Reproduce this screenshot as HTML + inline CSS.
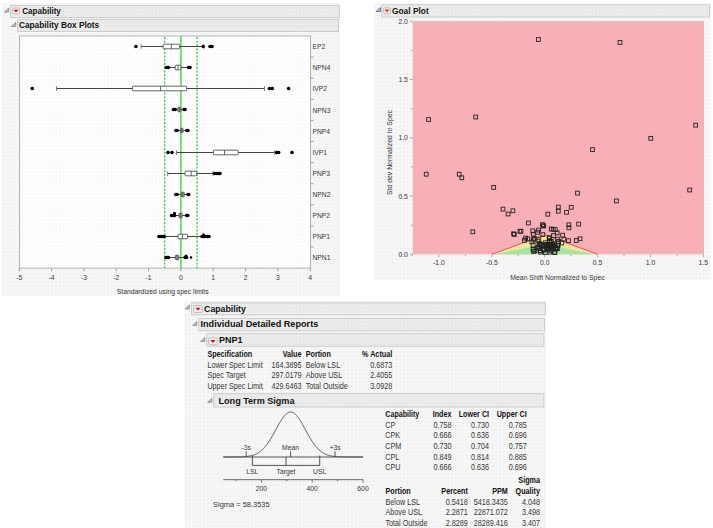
<!DOCTYPE html>
<html><head><meta charset="utf-8"><style>html,body{margin:0;padding:0;background:#fff;overflow:hidden}svg{display:block}text{font-family:"Liberation Sans",sans-serif}</style></head>
<body>
<svg width="713" height="528" viewBox="0 0 713 528" style="font-family: &quot;Liberation Sans&quot;, sans-serif;">
<rect width="713" height="528" fill="#ffffff"/>
<defs><pattern id="grid" patternUnits="userSpaceOnUse" width="3.7" height="3.7"><rect width="3.7" height="3.7" fill="#f8f8f8"/><rect x="0" y="0" width="3.7" height="0.7" fill="#f0f0f0"/><rect x="0" y="0" width="0.7" height="3.7" fill="#f0f0f0"/></pattern><pattern id="hgrid" patternUnits="userSpaceOnUse" width="3.7" height="3.7"><rect width="3.7" height="3.7" fill="#ededed"/><rect width="3.7" height="0.7" fill="#e5e5e5"/><rect width="0.7" height="3.7" fill="#e5e5e5"/></pattern><pattern id="pgrid" patternUnits="userSpaceOnUse" width="3.7" height="3.7"><rect width="3.7" height="3.7" fill="#f9b1b9"/><rect width="3.7" height="0.7" fill="#f5acb5"/><rect width="0.7" height="3.7" fill="#f5acb5"/></pattern><pattern id="dots" patternUnits="userSpaceOnUse" width="3.7" height="3.7"><rect width="3.7" height="3.7" fill="#fefefe"/><rect x="0" y="1.5" width="1.2" height="0.8" fill="#ebebeb"/></pattern></defs>
<rect x="2" y="3" width="338" height="293" fill="url(#grid)"/>
<rect x="10.5" y="5.5" width="329" height="12" fill="url(#hgrid)" stroke="#cdcdcd" stroke-width="1"/>
<path d="M4.5 12.0 L8.7 8.1 L8.7 12.0 Z" fill="#c8c8c8" stroke="#8a8a8a" stroke-width="0.9" stroke-linejoin="round"/>
<rect x="12.5" y="8" width="7" height="6" rx="1.2" fill="#f0f0f0" stroke="#b8b8b8" stroke-width="0.9"/>
<path d="M13.4 9.7 L18.6 9.7 L16.0 12.6 Z" fill="#e0000f"/>
<text x="22.2" y="13.9" font-size="8.7" text-anchor="start" font-weight="bold" fill="#111" textLength="38.7" lengthAdjust="spacingAndGlyphs" >Capability</text>
<rect x="17.5" y="19.5" width="321" height="12" fill="url(#hgrid)" stroke="#cdcdcd" stroke-width="1"/>
<path d="M11.5 26.4 L15.7 22.5 L15.7 26.4 Z" fill="#c8c8c8" stroke="#8a8a8a" stroke-width="0.9" stroke-linejoin="round"/>
<text x="18.9" y="28.4" font-size="8.7" text-anchor="start" font-weight="bold" fill="#111" textLength="80.3" lengthAdjust="spacingAndGlyphs" >Capability Box Plots</text>
<rect x="19.5" y="35.95" width="291.0" height="232.2" fill="url(#dots)" stroke="#b4b4b4" stroke-width="1"/>
<line x1="19.25000000000003" y1="268.15" x2="19.25000000000003" y2="271.15" stroke="#999" stroke-width="1"/>
<text x="0" y="0" transform="translate(19.25,279.50) scale(0.92,1)" font-size="7.4" text-anchor="middle" font-weight="normal" fill="#353535" >-5</text>
<line x1="51.58000000000001" y1="268.15" x2="51.58000000000001" y2="271.15" stroke="#999" stroke-width="1"/>
<text x="0" y="0" transform="translate(51.58,279.50) scale(0.92,1)" font-size="7.4" text-anchor="middle" font-weight="normal" fill="#353535" >-4</text>
<line x1="83.91000000000001" y1="268.15" x2="83.91000000000001" y2="271.15" stroke="#999" stroke-width="1"/>
<text x="0" y="0" transform="translate(83.91,279.50) scale(0.92,1)" font-size="7.4" text-anchor="middle" font-weight="normal" fill="#353535" >-3</text>
<line x1="116.24000000000001" y1="268.15" x2="116.24000000000001" y2="271.15" stroke="#999" stroke-width="1"/>
<text x="0" y="0" transform="translate(116.24,279.50) scale(0.92,1)" font-size="7.4" text-anchor="middle" font-weight="normal" fill="#353535" >-2</text>
<line x1="148.57" y1="268.15" x2="148.57" y2="271.15" stroke="#999" stroke-width="1"/>
<text x="0" y="0" transform="translate(148.57,279.50) scale(0.92,1)" font-size="7.4" text-anchor="middle" font-weight="normal" fill="#353535" >-1</text>
<line x1="180.9" y1="268.15" x2="180.9" y2="271.15" stroke="#999" stroke-width="1"/>
<text x="0" y="0" transform="translate(180.90,279.50) scale(0.92,1)" font-size="7.4" text-anchor="middle" font-weight="normal" fill="#353535" >0</text>
<line x1="213.23000000000002" y1="268.15" x2="213.23000000000002" y2="271.15" stroke="#999" stroke-width="1"/>
<text x="0" y="0" transform="translate(213.23,279.50) scale(0.92,1)" font-size="7.4" text-anchor="middle" font-weight="normal" fill="#353535" >1</text>
<line x1="245.56" y1="268.15" x2="245.56" y2="271.15" stroke="#999" stroke-width="1"/>
<text x="0" y="0" transform="translate(245.56,279.50) scale(0.92,1)" font-size="7.4" text-anchor="middle" font-weight="normal" fill="#353535" >2</text>
<line x1="277.89" y1="268.15" x2="277.89" y2="271.15" stroke="#999" stroke-width="1"/>
<text x="0" y="0" transform="translate(277.89,279.50) scale(0.92,1)" font-size="7.4" text-anchor="middle" font-weight="normal" fill="#353535" >3</text>
<line x1="310.22" y1="268.15" x2="310.22" y2="271.15" stroke="#999" stroke-width="1"/>
<text x="0" y="0" transform="translate(310.22,279.50) scale(0.92,1)" font-size="7.4" text-anchor="middle" font-weight="normal" fill="#353535" >4</text>
<text x="162.7" y="294.0" font-size="7.3" text-anchor="middle" font-weight="normal" fill="#353535" textLength="91.8" lengthAdjust="spacingAndGlyphs" >Standardized using spec limits</text>
<text x="0" y="0" transform="translate(312.50,49.20) scale(0.86,1)" font-size="7.8" text-anchor="start" font-weight="normal" fill="#353535" >EP2</text>
<text x="0" y="0" transform="translate(312.50,70.31) scale(0.86,1)" font-size="7.8" text-anchor="start" font-weight="normal" fill="#353535" >NPN4</text>
<line x1="310.5" y1="57.05909090909091" x2="313.5" y2="57.05909090909091" stroke="#999" stroke-width="1"/>
<text x="0" y="0" transform="translate(312.50,91.42) scale(0.86,1)" font-size="7.8" text-anchor="start" font-weight="normal" fill="#353535" >IVP2</text>
<line x1="310.5" y1="78.16818181818182" x2="313.5" y2="78.16818181818182" stroke="#999" stroke-width="1"/>
<text x="0" y="0" transform="translate(312.50,112.53) scale(0.86,1)" font-size="7.8" text-anchor="start" font-weight="normal" fill="#353535" >NPN3</text>
<line x1="310.5" y1="99.27727272727273" x2="313.5" y2="99.27727272727273" stroke="#999" stroke-width="1"/>
<text x="0" y="0" transform="translate(312.50,133.64) scale(0.86,1)" font-size="7.8" text-anchor="start" font-weight="normal" fill="#353535" >PNP4</text>
<line x1="310.5" y1="120.38636363636364" x2="313.5" y2="120.38636363636364" stroke="#999" stroke-width="1"/>
<text x="0" y="0" transform="translate(312.50,154.75) scale(0.86,1)" font-size="7.8" text-anchor="start" font-weight="normal" fill="#353535" >IVP1</text>
<line x1="310.5" y1="141.49545454545455" x2="313.5" y2="141.49545454545455" stroke="#999" stroke-width="1"/>
<text x="0" y="0" transform="translate(312.50,175.86) scale(0.86,1)" font-size="7.8" text-anchor="start" font-weight="normal" fill="#353535" >PNP3</text>
<line x1="310.5" y1="162.60454545454547" x2="313.5" y2="162.60454545454547" stroke="#999" stroke-width="1"/>
<text x="0" y="0" transform="translate(312.50,196.97) scale(0.86,1)" font-size="7.8" text-anchor="start" font-weight="normal" fill="#353535" >NPN2</text>
<line x1="310.5" y1="183.71363636363634" x2="313.5" y2="183.71363636363634" stroke="#999" stroke-width="1"/>
<text x="0" y="0" transform="translate(312.50,218.08) scale(0.86,1)" font-size="7.8" text-anchor="start" font-weight="normal" fill="#353535" >PNP2</text>
<line x1="310.5" y1="204.82272727272726" x2="313.5" y2="204.82272727272726" stroke="#999" stroke-width="1"/>
<text x="0" y="0" transform="translate(312.50,239.19) scale(0.86,1)" font-size="7.8" text-anchor="start" font-weight="normal" fill="#353535" >PNP1</text>
<line x1="310.5" y1="225.9318181818182" x2="313.5" y2="225.9318181818182" stroke="#999" stroke-width="1"/>
<text x="0" y="0" transform="translate(312.50,260.30) scale(0.86,1)" font-size="7.8" text-anchor="start" font-weight="normal" fill="#353535" >NPN1</text>
<line x1="310.5" y1="247.0409090909091" x2="313.5" y2="247.0409090909091" stroke="#999" stroke-width="1"/>
<line x1="180.9" y1="35.95" x2="180.9" y2="268.15" stroke="#6fd46f" stroke-width="1.7"/>
<line x1="164.735" y1="36.95" x2="164.735" y2="268.15" stroke="#3cc846" stroke-width="1.3" stroke-dasharray="2.2,1.5"/>
<line x1="197.065" y1="36.95" x2="197.065" y2="268.15" stroke="#3cc846" stroke-width="1.3" stroke-dasharray="2.2,1.5"/>
<line x1="141.1" y1="46.5" x2="203.6" y2="46.5" stroke="#444" stroke-width="1"/>
<line x1="141.1" y1="44.2" x2="141.1" y2="48.8" stroke="#777" stroke-width="1"/>
<line x1="203.6" y1="44.2" x2="203.6" y2="48.8" stroke="#777" stroke-width="1"/>
<rect x="163.1" y="44.2" width="16.5" height="4.6" fill="#fff" stroke="#555" stroke-width="0.9" rx="0.8"/>
<line x1="171.4" y1="44.2" x2="171.4" y2="48.8" stroke="#555" stroke-width="0.9"/>
<circle cx="135.9" cy="46.5" r="1.8" fill="#000"/>
<circle cx="203.2" cy="46.5" r="1.8" fill="#000"/>
<circle cx="210" cy="46.5" r="1.8" fill="#000"/>
<circle cx="212" cy="46.5" r="1.8" fill="#000"/>
<line x1="169.8" y1="67.5" x2="186.8" y2="67.5" stroke="#444" stroke-width="1"/>
<rect x="175.2" y="65.2" width="5.700000000000017" height="4.6" fill="#fff" stroke="#555" stroke-width="0.9" rx="0.8"/>
<line x1="178.0" y1="65.2" x2="178.0" y2="69.8" stroke="#555" stroke-width="0.9"/>
<circle cx="166.3" cy="67.5" r="1.8" fill="#000"/>
<circle cx="168.3" cy="67.5" r="1.8" fill="#000"/>
<circle cx="188.5" cy="67.5" r="1.8" fill="#000"/>
<circle cx="190" cy="67.5" r="1.8" fill="#000"/>
<line x1="56.5" y1="88.5" x2="264.5" y2="88.5" stroke="#444" stroke-width="1"/>
<line x1="56.5" y1="86.2" x2="56.5" y2="90.8" stroke="#777" stroke-width="1"/>
<line x1="264.5" y1="86.2" x2="264.5" y2="90.8" stroke="#777" stroke-width="1"/>
<rect x="132.3" y="86.2" width="54.39999999999998" height="4.6" fill="#fff" stroke="#555" stroke-width="0.9" rx="0.8"/>
<line x1="160.6" y1="86.2" x2="160.6" y2="90.8" stroke="#555" stroke-width="0.9"/>
<circle cx="32.2" cy="88.5" r="1.8" fill="#000"/>
<circle cx="269.4" cy="88.5" r="1.8" fill="#000"/>
<circle cx="272.3" cy="88.5" r="1.8" fill="#000"/>
<circle cx="288.6" cy="88.5" r="1.8" fill="#000"/>
<line x1="177" y1="109.5" x2="182.5" y2="109.5" stroke="#444" stroke-width="1"/>
<rect x="177.8" y="107.2" width="3.0999999999999943" height="4.6" fill="#a8a8a8" stroke="#555" stroke-width="0.9" rx="0.8"/>
<line x1="179.4" y1="107.2" x2="179.4" y2="111.8" stroke="#555" stroke-width="0.9"/>
<circle cx="173.5" cy="109.5" r="1.8" fill="#000"/>
<circle cx="175.2" cy="109.5" r="1.8" fill="#000"/>
<circle cx="184" cy="109.5" r="1.8" fill="#000"/>
<circle cx="185" cy="109.5" r="1.8" fill="#000"/>
<line x1="178.4" y1="130.5" x2="185.7" y2="130.5" stroke="#444" stroke-width="1"/>
<rect x="180.3" y="128.2" width="2.799999999999983" height="4.6" fill="#a8a8a8" stroke="#555" stroke-width="0.9" rx="0.8"/>
<line x1="181.7" y1="128.2" x2="181.7" y2="132.8" stroke="#555" stroke-width="0.9"/>
<circle cx="176" cy="130.5" r="1.8" fill="#000"/>
<circle cx="177" cy="130.5" r="1.8" fill="#000"/>
<circle cx="187" cy="130.5" r="1.8" fill="#000"/>
<circle cx="188" cy="130.5" r="1.8" fill="#000"/>
<line x1="176.6" y1="152.5" x2="274.7" y2="152.5" stroke="#444" stroke-width="1"/>
<line x1="176.6" y1="150.2" x2="176.6" y2="154.8" stroke="#777" stroke-width="1"/>
<line x1="274.7" y1="150.2" x2="274.7" y2="154.8" stroke="#777" stroke-width="1"/>
<rect x="213.3" y="150.2" width="25.0" height="4.6" fill="#fff" stroke="#555" stroke-width="0.9" rx="0.8"/>
<line x1="224.5" y1="150.2" x2="224.5" y2="154.8" stroke="#555" stroke-width="0.9"/>
<circle cx="168" cy="152.5" r="1.8" fill="#000"/>
<circle cx="172" cy="152.5" r="1.8" fill="#000"/>
<circle cx="276.7" cy="152.5" r="1.8" fill="#000"/>
<circle cx="278.7" cy="152.5" r="1.8" fill="#000"/>
<circle cx="292" cy="152.5" r="1.8" fill="#000"/>
<line x1="167.7" y1="173.5" x2="213" y2="173.5" stroke="#444" stroke-width="1"/>
<line x1="167.7" y1="171.2" x2="167.7" y2="175.8" stroke="#777" stroke-width="1"/>
<line x1="213" y1="171.2" x2="213" y2="175.8" stroke="#777" stroke-width="1"/>
<rect x="185" y="171.2" width="11.699999999999989" height="4.6" fill="#fff" stroke="#555" stroke-width="0.9" rx="0.8"/>
<line x1="191.2" y1="171.2" x2="191.2" y2="175.8" stroke="#555" stroke-width="0.9"/>
<circle cx="214.5" cy="173.5" r="1.8" fill="#000"/>
<circle cx="216.5" cy="173.5" r="1.8" fill="#000"/>
<circle cx="218.5" cy="173.5" r="1.8" fill="#000"/>
<circle cx="220" cy="173.5" r="1.8" fill="#000"/>
<line x1="178" y1="194.5" x2="186.5" y2="194.5" stroke="#444" stroke-width="1"/>
<rect x="181.3" y="192.2" width="3.0" height="4.6" fill="#a8a8a8" stroke="#555" stroke-width="0.9" rx="0.8"/>
<line x1="182.8" y1="192.2" x2="182.8" y2="196.8" stroke="#555" stroke-width="0.9"/>
<circle cx="175.8" cy="194.5" r="1.8" fill="#000"/>
<circle cx="177" cy="194.5" r="1.8" fill="#000"/>
<circle cx="188" cy="194.5" r="1.8" fill="#000"/>
<circle cx="188.7" cy="194.5" r="1.8" fill="#000"/>
<line x1="175.9" y1="215.5" x2="185.1" y2="215.5" stroke="#444" stroke-width="1"/>
<rect x="179" y="213.2" width="3.1999999999999886" height="4.6" fill="#a8a8a8" stroke="#555" stroke-width="0.9" rx="0.8"/>
<line x1="180.6" y1="213.2" x2="180.6" y2="217.8" stroke="#555" stroke-width="0.9"/>
<circle cx="171.5" cy="215.5" r="1.8" fill="#000"/>
<circle cx="173" cy="215.5" r="1.8" fill="#000"/>
<circle cx="174.5" cy="215.5" r="1.8" fill="#000"/>
<circle cx="186.7" cy="215.5" r="1.8" fill="#000"/>
<circle cx="187.8" cy="215.5" r="1.8" fill="#000"/>
<circle cx="174.5" cy="213.3" r="1.5" fill="#000"/>
<line x1="165.2" y1="236.5" x2="200.5" y2="236.5" stroke="#444" stroke-width="1"/>
<rect x="178" y="234.2" width="9.599999999999994" height="4.6" fill="#fff" stroke="#555" stroke-width="0.9" rx="0.8"/>
<line x1="182.6" y1="234.2" x2="182.6" y2="238.8" stroke="#555" stroke-width="0.9"/>
<circle cx="159" cy="236.5" r="1.8" fill="#000"/>
<circle cx="161" cy="236.5" r="1.8" fill="#000"/>
<circle cx="163" cy="236.5" r="1.8" fill="#000"/>
<circle cx="164.2" cy="236.5" r="1.8" fill="#000"/>
<circle cx="202" cy="236.5" r="1.8" fill="#000"/>
<circle cx="203.5" cy="236.5" r="1.8" fill="#000"/>
<circle cx="205.5" cy="236.5" r="1.8" fill="#000"/>
<circle cx="207.5" cy="236.5" r="1.8" fill="#000"/>
<circle cx="209" cy="236.5" r="1.8" fill="#000"/>
<circle cx="203.5" cy="234.8" r="1.5" fill="#000"/>
<line x1="170.2" y1="257.5" x2="183.5" y2="257.5" stroke="#444" stroke-width="1"/>
<rect x="175.3" y="255.2" width="3.5" height="4.6" fill="#a8a8a8" stroke="#555" stroke-width="0.9" rx="0.8"/>
<line x1="177" y1="255.2" x2="177" y2="259.8" stroke="#555" stroke-width="0.9"/>
<circle cx="166" cy="257.5" r="1.8" fill="#000"/>
<circle cx="167.5" cy="257.5" r="1.8" fill="#000"/>
<circle cx="168.5" cy="257.5" r="1.8" fill="#000"/>
<circle cx="185" cy="257.5" r="1.8" fill="#000"/>
<circle cx="186.5" cy="257.5" r="1.8" fill="#000"/>
<circle cx="186" cy="256" r="1.5" fill="#000"/>
<circle cx="191" cy="257.5" r="1.3" fill="#000"/>
<rect x="374" y="3.5" width="336.8" height="276.2" fill="url(#grid)"/>
<rect x="381.5" y="4.8" width="328" height="12.2" fill="url(#hgrid)" stroke="#cdcdcd" stroke-width="1"/>
<path d="M376.2 11.5 L380.4 7.6 L380.4 11.5 Z" fill="#c8c8c8" stroke="#7a5a9a" stroke-width="0.9" stroke-linejoin="round"/>
<rect x="383.5" y="7.8" width="7" height="6" rx="1.2" fill="#f0f0f0" stroke="#b8b8b8" stroke-width="0.9"/>
<path d="M384.4 9.5 L389.6 9.5 L387.0 12.4 Z" fill="#e4401a"/>
<text x="392" y="13.9" font-size="8.7" text-anchor="start" font-weight="bold" fill="#111" textLength="36.7" lengthAdjust="spacingAndGlyphs" >Goal Plot</text>
<rect x="412.7" y="21.3" width="291.3" height="233.0" fill="url(#pgrid)"/>
<path d="M491.82000000000005 254.3 L544.7 234.88333333333335 L597.58 254.3 Z" fill="#f1e79a"/>
<path d="M493.93520000000007 254.3 L544.7 244.59166666666667 L595.4648000000001 254.3 Z" fill="#a6e2a2"/>
<path d="M491.82000000000005 254.3 L544.7 234.88333333333335 L597.58 254.3" fill="none" stroke="#e5525f" stroke-width="1"/>
<line x1="412.7" y1="21.3" x2="704" y2="21.3" stroke="#c9c9c9" stroke-width="0.8"/>
<line x1="409.7" y1="254.3" x2="412.7" y2="254.3" stroke="#999" stroke-width="0.8"/>
<text x="0" y="0" transform="translate(407.90,256.80) scale(0.92,1)" font-size="7.4" text-anchor="end" font-weight="normal" fill="#353535" >0.0</text>
<line x1="410.7" y1="225.175" x2="412.7" y2="225.175" stroke="#999" stroke-width="0.8"/>
<line x1="409.7" y1="196.05" x2="412.7" y2="196.05" stroke="#999" stroke-width="0.8"/>
<text x="0" y="0" transform="translate(407.90,198.55) scale(0.92,1)" font-size="7.4" text-anchor="end" font-weight="normal" fill="#353535" >0.5</text>
<line x1="410.7" y1="166.925" x2="412.7" y2="166.925" stroke="#999" stroke-width="0.8"/>
<line x1="409.7" y1="137.8" x2="412.7" y2="137.8" stroke="#999" stroke-width="0.8"/>
<text x="0" y="0" transform="translate(407.90,140.30) scale(0.92,1)" font-size="7.4" text-anchor="end" font-weight="normal" fill="#353535" >1.0</text>
<line x1="410.7" y1="108.67500000000001" x2="412.7" y2="108.67500000000001" stroke="#999" stroke-width="0.8"/>
<line x1="409.7" y1="79.55000000000001" x2="412.7" y2="79.55000000000001" stroke="#999" stroke-width="0.8"/>
<text x="0" y="0" transform="translate(407.90,82.05) scale(0.92,1)" font-size="7.4" text-anchor="end" font-weight="normal" fill="#353535" >1.5</text>
<line x1="410.7" y1="50.42500000000001" x2="412.7" y2="50.42500000000001" stroke="#999" stroke-width="0.8"/>
<line x1="409.7" y1="21.30000000000001" x2="412.7" y2="21.30000000000001" stroke="#999" stroke-width="0.8"/>
<text x="0" y="0" transform="translate(407.90,23.80) scale(0.92,1)" font-size="7.4" text-anchor="end" font-weight="normal" fill="#353535" >2.0</text>
<line x1="412.5" y1="254.3" x2="412.5" y2="256.3" stroke="#999" stroke-width="0.8"/>
<line x1="438.94000000000005" y1="254.3" x2="438.94000000000005" y2="257.3" stroke="#999" stroke-width="0.8"/>
<text x="0" y="0" transform="translate(438.94,265.30) scale(0.92,1)" font-size="7.4" text-anchor="middle" font-weight="normal" fill="#353535" >-1.0</text>
<line x1="465.38000000000005" y1="254.3" x2="465.38000000000005" y2="256.3" stroke="#999" stroke-width="0.8"/>
<line x1="491.82000000000005" y1="254.3" x2="491.82000000000005" y2="257.3" stroke="#999" stroke-width="0.8"/>
<text x="0" y="0" transform="translate(491.82,265.30) scale(0.92,1)" font-size="7.4" text-anchor="middle" font-weight="normal" fill="#353535" >-0.5</text>
<line x1="518.26" y1="254.3" x2="518.26" y2="256.3" stroke="#999" stroke-width="0.8"/>
<line x1="544.7" y1="254.3" x2="544.7" y2="257.3" stroke="#999" stroke-width="0.8"/>
<text x="0" y="0" transform="translate(544.70,265.30) scale(0.92,1)" font-size="7.4" text-anchor="middle" font-weight="normal" fill="#353535" >0.0</text>
<line x1="571.1400000000001" y1="254.3" x2="571.1400000000001" y2="256.3" stroke="#999" stroke-width="0.8"/>
<line x1="597.58" y1="254.3" x2="597.58" y2="257.3" stroke="#999" stroke-width="0.8"/>
<text x="0" y="0" transform="translate(597.58,265.30) scale(0.92,1)" font-size="7.4" text-anchor="middle" font-weight="normal" fill="#353535" >0.5</text>
<line x1="624.0200000000001" y1="254.3" x2="624.0200000000001" y2="256.3" stroke="#999" stroke-width="0.8"/>
<line x1="650.46" y1="254.3" x2="650.46" y2="257.3" stroke="#999" stroke-width="0.8"/>
<text x="0" y="0" transform="translate(650.46,265.30) scale(0.92,1)" font-size="7.4" text-anchor="middle" font-weight="normal" fill="#353535" >1.0</text>
<line x1="676.9000000000001" y1="254.3" x2="676.9000000000001" y2="256.3" stroke="#999" stroke-width="0.8"/>
<line x1="703.34" y1="254.3" x2="703.34" y2="257.3" stroke="#999" stroke-width="0.8"/>
<text x="0" y="0" transform="translate(703.34,265.30) scale(0.92,1)" font-size="7.4" text-anchor="middle" font-weight="normal" fill="#353535" >1.5</text>
<text x="557.5" y="279.8" font-size="7.3" text-anchor="middle" font-weight="normal" fill="#353535" textLength="94.3" lengthAdjust="spacingAndGlyphs" >Mean Shift Normalized to Spec</text>
<text x="0" y="0" font-size="7.2" fill="#333" text-anchor="middle" textLength="85" lengthAdjust="spacingAndGlyphs" transform="translate(392.2,152.5) rotate(-90)">Std dev Normalized to Spec</text>
<rect x="536.50" y="37.60" width="3.8" height="3.8" fill="none" stroke="#222" stroke-width="0.9"/>
<rect x="618.10" y="40.60" width="3.8" height="3.8" fill="none" stroke="#222" stroke-width="0.9"/>
<rect x="426.70" y="117.60" width="3.8" height="3.8" fill="none" stroke="#222" stroke-width="0.9"/>
<rect x="473.80" y="115.10" width="3.8" height="3.8" fill="none" stroke="#222" stroke-width="0.9"/>
<rect x="693.80" y="123.30" width="3.8" height="3.8" fill="none" stroke="#222" stroke-width="0.9"/>
<rect x="648.90" y="136.40" width="3.8" height="3.8" fill="none" stroke="#222" stroke-width="0.9"/>
<rect x="590.60" y="147.70" width="3.8" height="3.8" fill="none" stroke="#222" stroke-width="0.9"/>
<rect x="424.30" y="172.30" width="3.8" height="3.8" fill="none" stroke="#222" stroke-width="0.9"/>
<rect x="457.30" y="172.30" width="3.8" height="3.8" fill="none" stroke="#222" stroke-width="0.9"/>
<rect x="459.90" y="175.90" width="3.8" height="3.8" fill="none" stroke="#222" stroke-width="0.9"/>
<rect x="491.80" y="185.50" width="3.8" height="3.8" fill="none" stroke="#222" stroke-width="0.9"/>
<rect x="687.80" y="188.10" width="3.8" height="3.8" fill="none" stroke="#222" stroke-width="0.9"/>
<rect x="575.60" y="191.20" width="3.8" height="3.8" fill="none" stroke="#222" stroke-width="0.9"/>
<rect x="614.50" y="199.00" width="3.8" height="3.8" fill="none" stroke="#222" stroke-width="0.9"/>
<rect x="501.10" y="207.20" width="3.8" height="3.8" fill="none" stroke="#222" stroke-width="0.9"/>
<rect x="506.20" y="212.10" width="3.8" height="3.8" fill="none" stroke="#222" stroke-width="0.9"/>
<rect x="511.00" y="208.90" width="3.8" height="3.8" fill="none" stroke="#222" stroke-width="0.9"/>
<rect x="556.40" y="205.20" width="3.8" height="3.8" fill="none" stroke="#222" stroke-width="0.9"/>
<rect x="556.40" y="209.30" width="3.8" height="3.8" fill="none" stroke="#222" stroke-width="0.9"/>
<rect x="569.30" y="205.40" width="3.8" height="3.8" fill="none" stroke="#222" stroke-width="0.9"/>
<rect x="564.60" y="210.40" width="3.8" height="3.8" fill="none" stroke="#222" stroke-width="0.9"/>
<rect x="545.90" y="212.30" width="3.8" height="3.8" fill="none" stroke="#222" stroke-width="0.9"/>
<rect x="526.50" y="221.10" width="3.8" height="3.8" fill="none" stroke="#222" stroke-width="0.9"/>
<rect x="540.60" y="222.80" width="3.8" height="3.8" fill="none" stroke="#222" stroke-width="0.9"/>
<rect x="541.80" y="223.90" width="3.8" height="3.8" fill="none" stroke="#222" stroke-width="0.9"/>
<rect x="567.00" y="222.90" width="3.8" height="3.8" fill="none" stroke="#222" stroke-width="0.9"/>
<rect x="567.00" y="225.90" width="3.8" height="3.8" fill="none" stroke="#222" stroke-width="0.9"/>
<rect x="576.70" y="222.20" width="3.8" height="3.8" fill="none" stroke="#222" stroke-width="0.9"/>
<rect x="470.90" y="229.90" width="3.8" height="3.8" fill="none" stroke="#222" stroke-width="0.9"/>
<rect x="511.70" y="231.90" width="3.8" height="3.8" fill="none" stroke="#222" stroke-width="0.9"/>
<rect x="512.40" y="232.50" width="3.8" height="3.8" fill="none" stroke="#222" stroke-width="0.9"/>
<rect x="518.00" y="229.35" width="3.8" height="3.8" fill="none" stroke="#222" stroke-width="0.9"/>
<rect x="519.10" y="229.40" width="3.8" height="3.8" fill="none" stroke="#222" stroke-width="0.9"/>
<rect x="530.90" y="228.90" width="3.8" height="3.8" fill="none" stroke="#222" stroke-width="0.9"/>
<rect x="536.70" y="228.20" width="3.8" height="3.8" fill="none" stroke="#222" stroke-width="0.9"/>
<rect x="535.70" y="230.40" width="3.8" height="3.8" fill="none" stroke="#222" stroke-width="0.9"/>
<rect x="531.40" y="232.30" width="3.8" height="3.8" fill="none" stroke="#222" stroke-width="0.9"/>
<rect x="541.20" y="224.10" width="3.8" height="3.8" fill="none" stroke="#222" stroke-width="0.9"/>
<rect x="549.30" y="227.10" width="3.8" height="3.8" fill="none" stroke="#222" stroke-width="0.9"/>
<rect x="551.30" y="227.40" width="3.8" height="3.8" fill="none" stroke="#222" stroke-width="0.9"/>
<rect x="553.40" y="227.70" width="3.8" height="3.8" fill="none" stroke="#222" stroke-width="0.9"/>
<rect x="555.30" y="231.00" width="3.8" height="3.8" fill="none" stroke="#222" stroke-width="0.9"/>
<rect x="560.70" y="233.30" width="3.8" height="3.8" fill="none" stroke="#222" stroke-width="0.9"/>
<rect x="551.70" y="233.60" width="3.8" height="3.8" fill="none" stroke="#222" stroke-width="0.9"/>
<rect x="540.90" y="232.70" width="3.8" height="3.8" fill="none" stroke="#222" stroke-width="0.9"/>
<rect x="523.70" y="236.20" width="3.8" height="3.8" fill="none" stroke="#222" stroke-width="0.9"/>
<rect x="525.90" y="237.00" width="3.8" height="3.8" fill="none" stroke="#222" stroke-width="0.9"/>
<rect x="566.50" y="238.80" width="3.8" height="3.8" fill="none" stroke="#222" stroke-width="0.9"/>
<rect x="574.40" y="238.60" width="3.8" height="3.8" fill="none" stroke="#222" stroke-width="0.9"/>
<rect x="578.10" y="236.90" width="3.8" height="3.8" fill="none" stroke="#222" stroke-width="0.9"/>
<rect x="531.62" y="237.50" width="3.8" height="3.8" fill="none" stroke="#222" stroke-width="0.9"/>
<rect x="536.90" y="237.71" width="3.8" height="3.8" fill="none" stroke="#222" stroke-width="0.9"/>
<rect x="547.13" y="235.83" width="3.8" height="3.8" fill="none" stroke="#222" stroke-width="0.9"/>
<rect x="522.63" y="238.53" width="3.8" height="3.8" fill="none" stroke="#222" stroke-width="0.9"/>
<rect x="532.47" y="236.42" width="3.8" height="3.8" fill="none" stroke="#222" stroke-width="0.9"/>
<rect x="561.93" y="237.25" width="3.8" height="3.8" fill="none" stroke="#222" stroke-width="0.9"/>
<rect x="555.56" y="237.27" width="3.8" height="3.8" fill="none" stroke="#222" stroke-width="0.9"/>
<rect x="547.66" y="236.13" width="3.8" height="3.8" fill="none" stroke="#222" stroke-width="0.9"/>
<rect x="547.49" y="238.64" width="3.8" height="3.8" fill="none" stroke="#222" stroke-width="0.9"/>
<rect x="543.93" y="242.44" width="3.8" height="3.8" fill="none" stroke="#222" stroke-width="0.9"/>
<rect x="549.27" y="239.39" width="3.8" height="3.8" fill="none" stroke="#222" stroke-width="0.9"/>
<rect x="552.40" y="241.76" width="3.8" height="3.8" fill="none" stroke="#222" stroke-width="0.9"/>
<rect x="535.95" y="239.24" width="3.8" height="3.8" fill="none" stroke="#222" stroke-width="0.9"/>
<rect x="556.26" y="241.23" width="3.8" height="3.8" fill="none" stroke="#222" stroke-width="0.9"/>
<rect x="550.98" y="243.05" width="3.8" height="3.8" fill="none" stroke="#222" stroke-width="0.9"/>
<rect x="550.81" y="243.24" width="3.8" height="3.8" fill="none" stroke="#222" stroke-width="0.9"/>
<rect x="539.32" y="242.70" width="3.8" height="3.8" fill="none" stroke="#222" stroke-width="0.9"/>
<rect x="541.11" y="243.31" width="3.8" height="3.8" fill="none" stroke="#222" stroke-width="0.9"/>
<rect x="556.74" y="239.54" width="3.8" height="3.8" fill="none" stroke="#222" stroke-width="0.9"/>
<rect x="529.99" y="240.08" width="3.8" height="3.8" fill="none" stroke="#222" stroke-width="0.9"/>
<rect x="559.86" y="241.06" width="3.8" height="3.8" fill="none" stroke="#222" stroke-width="0.9"/>
<rect x="547.66" y="240.45" width="3.8" height="3.8" fill="none" stroke="#222" stroke-width="0.9"/>
<rect x="543.36" y="240.84" width="3.8" height="3.8" fill="none" stroke="#222" stroke-width="0.9"/>
<rect x="537.73" y="241.73" width="3.8" height="3.8" fill="none" stroke="#222" stroke-width="0.9"/>
<rect x="546.13" y="243.17" width="3.8" height="3.8" fill="none" stroke="#222" stroke-width="0.9"/>
<rect x="549.65" y="243.28" width="3.8" height="3.8" fill="none" stroke="#222" stroke-width="0.9"/>
<rect x="555.93" y="243.56" width="3.8" height="3.8" fill="none" stroke="#222" stroke-width="0.9"/>
<rect x="549.27" y="239.83" width="3.8" height="3.8" fill="none" stroke="#222" stroke-width="0.9"/>
<rect x="556.08" y="243.44" width="3.8" height="3.8" fill="none" stroke="#222" stroke-width="0.9"/>
<rect x="553.67" y="247.15" width="3.8" height="3.8" fill="none" stroke="#222" stroke-width="0.9"/>
<rect x="548.80" y="244.29" width="3.8" height="3.8" fill="none" stroke="#222" stroke-width="0.9"/>
<rect x="551.81" y="247.19" width="3.8" height="3.8" fill="none" stroke="#222" stroke-width="0.9"/>
<rect x="537.87" y="243.11" width="3.8" height="3.8" fill="none" stroke="#222" stroke-width="0.9"/>
<rect x="552.38" y="250.52" width="3.8" height="3.8" fill="none" stroke="#222" stroke-width="0.9"/>
<rect x="532.86" y="249.00" width="3.8" height="3.8" fill="none" stroke="#222" stroke-width="0.9"/>
<rect x="541.07" y="243.81" width="3.8" height="3.8" fill="none" stroke="#222" stroke-width="0.9"/>
<rect x="538.09" y="248.75" width="3.8" height="3.8" fill="none" stroke="#222" stroke-width="0.9"/>
<rect x="552.86" y="242.95" width="3.8" height="3.8" fill="none" stroke="#222" stroke-width="0.9"/>
<rect x="546.27" y="242.96" width="3.8" height="3.8" fill="none" stroke="#222" stroke-width="0.9"/>
<rect x="548.92" y="245.25" width="3.8" height="3.8" fill="none" stroke="#222" stroke-width="0.9"/>
<rect x="553.06" y="250.45" width="3.8" height="3.8" fill="none" stroke="#222" stroke-width="0.9"/>
<rect x="543.49" y="250.59" width="3.8" height="3.8" fill="none" stroke="#222" stroke-width="0.9"/>
<rect x="538.50" y="243.22" width="3.8" height="3.8" fill="none" stroke="#222" stroke-width="0.9"/>
<rect x="545.89" y="242.85" width="3.8" height="3.8" fill="none" stroke="#222" stroke-width="0.9"/>
<rect x="535.63" y="245.86" width="3.8" height="3.8" fill="none" stroke="#222" stroke-width="0.9"/>
<rect x="546.17" y="243.85" width="3.8" height="3.8" fill="none" stroke="#222" stroke-width="0.9"/>
<rect x="531.68" y="249.54" width="3.8" height="3.8" fill="none" stroke="#222" stroke-width="0.9"/>
<rect x="538.60" y="250.27" width="3.8" height="3.8" fill="none" stroke="#222" stroke-width="0.9"/>
<rect x="553.46" y="245.62" width="3.8" height="3.8" fill="none" stroke="#222" stroke-width="0.9"/>
<rect x="542.34" y="246.76" width="3.8" height="3.8" fill="none" stroke="#222" stroke-width="0.9"/>
<rect x="547.02" y="247.37" width="3.8" height="3.8" fill="none" stroke="#222" stroke-width="0.9"/>
<rect x="544.86" y="247.56" width="3.8" height="3.8" fill="none" stroke="#222" stroke-width="0.9"/>
<rect x="554.59" y="246.66" width="3.8" height="3.8" fill="none" stroke="#222" stroke-width="0.9"/>
<rect x="541.60" y="248.36" width="3.8" height="3.8" fill="none" stroke="#222" stroke-width="0.9"/>
<rect x="536.66" y="245.01" width="3.8" height="3.8" fill="none" stroke="#222" stroke-width="0.9"/>
<rect x="555.53" y="246.77" width="3.8" height="3.8" fill="none" stroke="#222" stroke-width="0.9"/>
<rect x="544.58" y="242.69" width="3.8" height="3.8" fill="none" stroke="#222" stroke-width="0.9"/>
<rect x="541.19" y="247.24" width="3.8" height="3.8" fill="none" stroke="#222" stroke-width="0.9"/>
<rect x="531.11" y="247.53" width="3.8" height="3.8" fill="none" stroke="#222" stroke-width="0.9"/>
<rect x="546.72" y="243.08" width="3.8" height="3.8" fill="none" stroke="#222" stroke-width="0.9"/>
<rect x="546.60" y="246.33" width="3.8" height="3.8" fill="none" stroke="#222" stroke-width="0.9"/>
<rect x="547.92" y="245.42" width="3.8" height="3.8" fill="none" stroke="#222" stroke-width="0.9"/>
<rect x="548.63" y="248.50" width="3.8" height="3.8" fill="none" stroke="#222" stroke-width="0.9"/>
<rect x="531.17" y="243.08" width="3.8" height="3.8" fill="none" stroke="#222" stroke-width="0.9"/>
<rect x="547.84" y="250.31" width="3.8" height="3.8" fill="none" stroke="#222" stroke-width="0.9"/>
<rect x="537.00" y="246.25" width="3.8" height="3.8" fill="none" stroke="#222" stroke-width="0.9"/>
<rect x="545.71" y="245.16" width="3.8" height="3.8" fill="none" stroke="#222" stroke-width="0.9"/>
<rect x="184.7" y="300.8" width="361.3" height="228" fill="url(#grid)"/>
<rect x="191.5" y="302.8" width="354" height="12.0" fill="url(#hgrid)" stroke="#cdcdcd" stroke-width="1"/>
<path d="M185.1 309.0 L189.29999999999998 305.1 L189.29999999999998 309.0 Z" fill="#c8c8c8" stroke="#8a8a8a" stroke-width="0.9" stroke-linejoin="round"/>
<rect x="193.6" y="305.5" width="8.6" height="7" rx="1.2" fill="#f0f0f0" stroke="#b8b8b8" stroke-width="0.9"/>
<path d="M195.3 307.7 L200.5 307.7 L197.9 310.6 Z" fill="#e0000f"/>
<text x="204.1" y="311.9" font-size="9.5" text-anchor="start" font-weight="bold" fill="#111" textLength="41.8" lengthAdjust="spacingAndGlyphs" >Capability</text>
<rect x="198.8" y="318.5" width="345.7" height="12.300000000000011" fill="url(#hgrid)" stroke="#cdcdcd" stroke-width="1"/>
<path d="M192.7 325.4 L196.89999999999998 321.5 L196.89999999999998 325.4 Z" fill="#c8c8c8" stroke="#8a8a8a" stroke-width="0.9" stroke-linejoin="round"/>
<text x="200.5" y="327.2" font-size="9.5" text-anchor="start" font-weight="bold" fill="#111" textLength="117.8" lengthAdjust="spacingAndGlyphs" >Individual Detailed Reports</text>
<rect x="206.8" y="333.7" width="336.99999999999994" height="12.600000000000023" fill="url(#hgrid)" stroke="#cdcdcd" stroke-width="1"/>
<path d="M200.7 341.4 L204.89999999999998 337.5 L204.89999999999998 341.4 Z" fill="#c8c8c8" stroke="#8a8a8a" stroke-width="0.9" stroke-linejoin="round"/>
<rect x="208.6" y="337.8" width="8.6" height="7" rx="1.2" fill="#f0f0f0" stroke="#b8b8b8" stroke-width="0.9"/>
<path d="M210.3 340.0 L215.5 340.0 L212.9 342.90000000000003 Z" fill="#e0000f"/>
<text x="219" y="342.9" font-size="9.5" text-anchor="start" font-weight="bold" fill="#111" textLength="23.5" lengthAdjust="spacingAndGlyphs" >PNP1</text>
<text x="207.4" y="357" font-size="8.3" text-anchor="start" font-weight="bold" fill="#111" textLength="44.8" lengthAdjust="spacingAndGlyphs" >Specification</text>
<text x="0" y="0" transform="translate(301.50,357.00) scale(0.87,1)" font-size="8.3" text-anchor="end" font-weight="bold" fill="#111" >Value</text>
<text x="0" y="0" transform="translate(305.70,357.00) scale(0.87,1)" font-size="8.3" text-anchor="start" font-weight="bold" fill="#111" >Portion</text>
<text x="0" y="0" transform="translate(392.20,357.00) scale(0.87,1)" font-size="8.3" text-anchor="end" font-weight="bold" fill="#111" >% Actual</text>
<text x="0" y="0" transform="translate(207.40,367.70) scale(0.87,1)" font-size="8.3" text-anchor="start" font-weight="normal" fill="#353535" >Lower Spec Limit</text>
<text x="0" y="0" transform="translate(301.50,367.70) scale(0.87,1)" font-size="8.3" text-anchor="end" font-weight="normal" fill="#353535" >164.3895</text>
<text x="0" y="0" transform="translate(305.70,367.70) scale(0.87,1)" font-size="8.3" text-anchor="start" font-weight="normal" fill="#353535" >Below LSL</text>
<text x="0" y="0" transform="translate(392.20,367.70) scale(0.87,1)" font-size="8.3" text-anchor="end" font-weight="normal" fill="#353535" >0.6873</text>
<text x="0" y="0" transform="translate(207.40,378.40) scale(0.87,1)" font-size="8.3" text-anchor="start" font-weight="normal" fill="#353535" >Spec Target</text>
<text x="0" y="0" transform="translate(301.50,378.40) scale(0.87,1)" font-size="8.3" text-anchor="end" font-weight="normal" fill="#353535" >297.0179</text>
<text x="0" y="0" transform="translate(305.70,378.40) scale(0.87,1)" font-size="8.3" text-anchor="start" font-weight="normal" fill="#353535" >Above USL</text>
<text x="0" y="0" transform="translate(392.20,378.40) scale(0.87,1)" font-size="8.3" text-anchor="end" font-weight="normal" fill="#353535" >2.4055</text>
<text x="0" y="0" transform="translate(207.40,389.10) scale(0.87,1)" font-size="8.3" text-anchor="start" font-weight="normal" fill="#353535" >Upper Spec Limit</text>
<text x="0" y="0" transform="translate(301.50,389.10) scale(0.87,1)" font-size="8.3" text-anchor="end" font-weight="normal" fill="#353535" >429.6463</text>
<text x="0" y="0" transform="translate(305.70,389.10) scale(0.87,1)" font-size="8.3" text-anchor="start" font-weight="normal" fill="#353535" >Total Outside</text>
<text x="0" y="0" transform="translate(392.20,389.10) scale(0.87,1)" font-size="8.3" text-anchor="end" font-weight="normal" fill="#353535" >3.0928</text>
<rect x="213.7" y="393.7" width="330.09999999999997" height="13.300000000000011" fill="url(#hgrid)" stroke="#cdcdcd" stroke-width="1"/>
<path d="M207.7 402.2 L211.89999999999998 398.3 L211.89999999999998 402.2 Z" fill="#c8c8c8" stroke="#8a8a8a" stroke-width="0.9" stroke-linejoin="round"/>
<text x="218.5" y="403.6" font-size="9.5" text-anchor="start" font-weight="bold" fill="#111" textLength="76" lengthAdjust="spacingAndGlyphs" >Long Term Sigma</text>
<polyline points="223.30,457.00 223.77,457.00 224.23,457.00 224.70,457.00 225.16,457.00 225.63,457.00 226.09,457.00 226.56,457.00 227.03,457.00 227.49,456.99 227.96,456.99 228.42,456.99 228.89,456.99 229.35,456.99 229.82,456.99 230.28,456.99 230.75,456.99 231.22,456.99 231.68,456.98 232.15,456.98 232.61,456.98 233.08,456.98 233.54,456.97 234.01,456.97 234.48,456.97 234.94,456.96 235.41,456.96 235.87,456.95 236.34,456.94 236.80,456.94 237.27,456.93 237.74,456.92 238.20,456.91 238.67,456.90 239.13,456.89 239.60,456.88 240.06,456.87 240.53,456.85 241.00,456.83 241.46,456.82 241.93,456.80 242.39,456.77 242.86,456.75 243.32,456.72 243.79,456.69 244.25,456.66 244.72,456.63 245.19,456.59 245.65,456.55 246.12,456.50 246.58,456.45 247.05,456.40 247.51,456.34 247.98,456.28 248.45,456.21 248.91,456.14 249.38,456.06 249.84,455.98 250.31,455.88 250.77,455.79 251.24,455.68 251.71,455.56 252.17,455.44 252.64,455.31 253.10,455.17 253.57,455.02 254.03,454.86 254.50,454.69 254.97,454.50 255.43,454.31 255.90,454.10 256.36,453.88 256.83,453.65 257.29,453.40 257.76,453.14 258.23,452.87 258.69,452.57 259.16,452.27 259.62,451.94 260.09,451.60 260.55,451.24 261.02,450.87 261.48,450.47 261.95,450.06 262.42,449.63 262.88,449.18 263.35,448.71 263.81,448.22 264.28,447.71 264.74,447.19 265.21,446.64 265.68,446.07 266.14,445.48 266.61,444.88 267.07,444.25 267.54,443.60 268.00,442.94 268.47,442.26 268.94,441.55 269.40,440.84 269.87,440.10 270.33,439.35 270.80,438.58 271.26,437.80 271.73,437.01 272.19,436.20 272.66,435.39 273.13,434.56 273.59,433.72 274.06,432.88 274.52,432.03 274.99,431.18 275.45,430.32 275.92,429.46 276.39,428.61 276.85,427.75 277.32,426.90 277.78,426.06 278.25,425.22 278.71,424.39 279.18,423.58 279.65,422.77 280.11,421.99 280.58,421.21 281.04,420.46 281.51,419.73 281.97,419.03 282.44,418.34 282.91,417.69 283.37,417.06 283.84,416.46 284.30,415.90 284.77,415.36 285.23,414.87 285.70,414.40 286.16,413.98 286.63,413.59 287.10,413.25 287.56,412.94 288.03,412.68 288.49,412.46 288.96,412.28 289.42,412.14 289.89,412.05 290.36,412.01 290.82,412.00 291.29,412.05 291.75,412.13 292.22,412.26 292.68,412.44 293.15,412.66 293.62,412.92 294.08,413.22 294.55,413.56 295.01,413.94 295.48,414.36 295.94,414.82 296.41,415.32 296.88,415.85 297.34,416.41 297.81,417.00 298.27,417.63 298.74,418.28 299.20,418.96 299.67,419.67 300.13,420.40 300.60,421.15 301.07,421.91 301.53,422.70 302.00,423.50 302.46,424.32 302.93,425.14 303.39,425.98 303.86,426.82 304.33,427.68 304.79,428.53 305.26,429.39 305.72,430.24 306.19,431.10 306.65,431.95 307.12,432.80 307.59,433.65 308.05,434.48 308.52,435.31 308.98,436.13 309.45,436.94 309.91,437.73 310.38,438.51 310.85,439.28 311.31,440.03 311.78,440.77 312.24,441.49 312.71,442.19 313.17,442.88 313.64,443.54 314.11,444.19 314.57,444.82 315.04,445.43 315.50,446.02 315.97,446.59 316.43,447.14 316.90,447.67 317.36,448.18 317.83,448.67 318.30,449.14 318.76,449.59 319.23,450.02 319.69,450.44 320.16,450.83 320.62,451.21 321.09,451.57 321.56,451.91 322.02,452.24 322.49,452.55 322.95,452.84 323.42,453.12 323.88,453.38 324.35,453.63 324.82,453.86 325.28,454.08 325.75,454.29 326.21,454.49 326.68,454.67 327.14,454.84 327.61,455.01 328.07,455.16 328.54,455.30 329.01,455.43 329.47,455.55 329.94,455.67 330.40,455.78 330.87,455.88 331.33,455.97 331.80,456.05 332.27,456.13 332.73,456.21 333.20,456.28 333.66,456.34 334.13,456.40 334.59,456.45 335.06,456.50 335.53,456.54 335.99,456.59 336.46,456.62 336.92,456.66 337.39,456.69 337.85,456.72 338.32,456.75 338.79,456.77 339.25,456.79 339.72,456.81 340.18,456.83 340.65,456.85 341.11,456.86 341.58,456.88 342.04,456.89 342.51,456.90 342.98,456.91 343.44,456.92 343.91,456.93 344.37,456.94 344.84,456.94 345.30,456.95 345.77,456.96 346.24,456.96 346.70,456.97 347.17,456.97 347.63,456.97 348.10,456.98 348.56,456.98 349.03,456.98 349.50,456.98 349.96,456.99 350.43,456.99 350.89,456.99 351.36,456.99 351.82,456.99 352.29,456.99 352.76,456.99 353.22,456.99 353.69,456.99 354.15,457.00 354.62,457.00 355.08,457.00 355.55,457.00 356.01,457.00 356.48,457.00 356.95,457.00 357.41,457.00 357.88,457.00 358.34,457.00 358.81,457.00 359.27,457.00 359.74,457.00 360.21,457.00 360.67,457.00 361.14,457.00 361.60,457.00 362.07,457.00 362.53,457.00 363.00,457.00" fill="none" stroke="#444" stroke-width="0.9"/>
<line x1="223.29999999999998" y1="457" x2="363.0" y2="457" stroke="#444" stroke-width="0.9"/>
<line x1="246.1473" y1="451.3" x2="246.1473" y2="457" stroke="#444" stroke-width="0.9"/>
<line x1="290.61" y1="451.3" x2="290.61" y2="457" stroke="#444" stroke-width="0.9"/>
<line x1="335.0727" y1="451.3" x2="335.0727" y2="457" stroke="#444" stroke-width="0.9"/>
<text x="0" y="0" transform="translate(246.15,450.30) scale(0.92,1)" font-size="7.4" text-anchor="middle" font-weight="normal" fill="#353535" >-3s</text>
<text x="0" y="0" transform="translate(290.61,450.30) scale(0.92,1)" font-size="7.4" text-anchor="middle" font-weight="normal" fill="#353535" >Mean</text>
<text x="0" y="0" transform="translate(335.07,450.30) scale(0.92,1)" font-size="7.4" text-anchor="middle" font-weight="normal" fill="#353535" >+3s</text>
<path d="M252.354933 455.5 L252.354933 465.4 L319.7301602 465.4 L319.7301602 455.5" fill="none" stroke="#444" stroke-width="0.9"/>
<line x1="286.0425466" y1="457" x2="286.0425466" y2="465.4" stroke="#444" stroke-width="0.9"/>
<text x="0" y="0" transform="translate(252.35,473.80) scale(0.92,1)" font-size="7.4" text-anchor="middle" font-weight="normal" fill="#353535" >LSL</text>
<text x="0" y="0" transform="translate(286.04,473.80) scale(0.92,1)" font-size="7.4" text-anchor="middle" font-weight="normal" fill="#353535" >Target</text>
<text x="0" y="0" transform="translate(319.73,473.80) scale(0.92,1)" font-size="7.4" text-anchor="middle" font-weight="normal" fill="#353535" >USL</text>
<line x1="223.29999999999998" y1="479.7" x2="363.0" y2="479.7" stroke="#555" stroke-width="0.9"/>
<line x1="236.0" y1="479.7" x2="236.0" y2="481.2" stroke="#555" stroke-width="0.8"/>
<line x1="261.4" y1="479.7" x2="261.4" y2="482.7" stroke="#555" stroke-width="0.8"/>
<line x1="286.8" y1="479.7" x2="286.8" y2="481.2" stroke="#555" stroke-width="0.8"/>
<line x1="312.2" y1="479.7" x2="312.2" y2="482.7" stroke="#555" stroke-width="0.8"/>
<line x1="337.6" y1="479.7" x2="337.6" y2="481.2" stroke="#555" stroke-width="0.8"/>
<line x1="363.0" y1="479.7" x2="363.0" y2="482.7" stroke="#555" stroke-width="0.8"/>
<text x="0" y="0" transform="translate(261.40,491.30) scale(0.92,1)" font-size="7.4" text-anchor="middle" font-weight="normal" fill="#353535" >200</text>
<text x="0" y="0" transform="translate(312.20,491.30) scale(0.92,1)" font-size="7.4" text-anchor="middle" font-weight="normal" fill="#353535" >400</text>
<text x="0" y="0" transform="translate(363.00,491.30) scale(0.92,1)" font-size="7.4" text-anchor="middle" font-weight="normal" fill="#353535" >600</text>
<text x="0" y="0" transform="translate(213.10,506.60) scale(0.98,1)" font-size="7.6" text-anchor="start" font-weight="normal" fill="#353535" >Sigma = 58.3535</text>
<text x="385.3" y="417.3" font-size="8.3" text-anchor="start" font-weight="bold" fill="#111" textLength="34" lengthAdjust="spacingAndGlyphs" >Capability</text>
<text x="0" y="0" transform="translate(451.50,417.30) scale(0.87,1)" font-size="8.3" text-anchor="end" font-weight="bold" fill="#111" >Index</text>
<text x="0" y="0" transform="translate(489.10,417.30) scale(0.87,1)" font-size="8.3" text-anchor="end" font-weight="bold" fill="#111" >Lower CI</text>
<text x="0" y="0" transform="translate(526.70,417.30) scale(0.87,1)" font-size="8.3" text-anchor="end" font-weight="bold" fill="#111" >Upper CI</text>
<text x="0" y="0" transform="translate(385.30,427.80) scale(0.87,1)" font-size="8.3" text-anchor="start" font-weight="normal" fill="#353535" >CP</text>
<text x="0" y="0" transform="translate(451.50,427.80) scale(0.87,1)" font-size="8.3" text-anchor="end" font-weight="normal" fill="#353535" >0.758</text>
<text x="0" y="0" transform="translate(489.10,427.80) scale(0.87,1)" font-size="8.3" text-anchor="end" font-weight="normal" fill="#353535" >0.730</text>
<text x="0" y="0" transform="translate(526.70,427.80) scale(0.87,1)" font-size="8.3" text-anchor="end" font-weight="normal" fill="#353535" >0.785</text>
<text x="0" y="0" transform="translate(385.30,438.40) scale(0.87,1)" font-size="8.3" text-anchor="start" font-weight="normal" fill="#353535" >CPK</text>
<text x="0" y="0" transform="translate(451.50,438.40) scale(0.87,1)" font-size="8.3" text-anchor="end" font-weight="normal" fill="#353535" >0.666</text>
<text x="0" y="0" transform="translate(489.10,438.40) scale(0.87,1)" font-size="8.3" text-anchor="end" font-weight="normal" fill="#353535" >0.636</text>
<text x="0" y="0" transform="translate(526.70,438.40) scale(0.87,1)" font-size="8.3" text-anchor="end" font-weight="normal" fill="#353535" >0.696</text>
<text x="0" y="0" transform="translate(385.30,449.00) scale(0.87,1)" font-size="8.3" text-anchor="start" font-weight="normal" fill="#353535" >CPM</text>
<text x="0" y="0" transform="translate(451.50,449.00) scale(0.87,1)" font-size="8.3" text-anchor="end" font-weight="normal" fill="#353535" >0.730</text>
<text x="0" y="0" transform="translate(489.10,449.00) scale(0.87,1)" font-size="8.3" text-anchor="end" font-weight="normal" fill="#353535" >0.704</text>
<text x="0" y="0" transform="translate(526.70,449.00) scale(0.87,1)" font-size="8.3" text-anchor="end" font-weight="normal" fill="#353535" >0.757</text>
<text x="0" y="0" transform="translate(385.30,459.50) scale(0.87,1)" font-size="8.3" text-anchor="start" font-weight="normal" fill="#353535" >CPL</text>
<text x="0" y="0" transform="translate(451.50,459.50) scale(0.87,1)" font-size="8.3" text-anchor="end" font-weight="normal" fill="#353535" >0.849</text>
<text x="0" y="0" transform="translate(489.10,459.50) scale(0.87,1)" font-size="8.3" text-anchor="end" font-weight="normal" fill="#353535" >0.814</text>
<text x="0" y="0" transform="translate(526.70,459.50) scale(0.87,1)" font-size="8.3" text-anchor="end" font-weight="normal" fill="#353535" >0.885</text>
<text x="0" y="0" transform="translate(385.30,470.00) scale(0.87,1)" font-size="8.3" text-anchor="start" font-weight="normal" fill="#353535" >CPU</text>
<text x="0" y="0" transform="translate(451.50,470.00) scale(0.87,1)" font-size="8.3" text-anchor="end" font-weight="normal" fill="#353535" >0.666</text>
<text x="0" y="0" transform="translate(489.10,470.00) scale(0.87,1)" font-size="8.3" text-anchor="end" font-weight="normal" fill="#353535" >0.636</text>
<text x="0" y="0" transform="translate(526.70,470.00) scale(0.87,1)" font-size="8.3" text-anchor="end" font-weight="normal" fill="#353535" >0.696</text>
<text x="0" y="0" transform="translate(540.00,483.10) scale(0.87,1)" font-size="8.3" text-anchor="end" font-weight="bold" fill="#111" >Sigma</text>
<text x="0" y="0" transform="translate(385.50,493.70) scale(0.87,1)" font-size="8.3" text-anchor="start" font-weight="bold" fill="#111" >Portion</text>
<text x="0" y="0" transform="translate(467.80,493.70) scale(0.87,1)" font-size="8.3" text-anchor="end" font-weight="bold" fill="#111" >Percent</text>
<text x="0" y="0" transform="translate(507.80,493.70) scale(0.87,1)" font-size="8.3" text-anchor="end" font-weight="bold" fill="#111" >PPM</text>
<text x="0" y="0" transform="translate(540.00,493.70) scale(0.87,1)" font-size="8.3" text-anchor="end" font-weight="bold" fill="#111" >Quality</text>
<text x="0" y="0" transform="translate(385.50,504.60) scale(0.87,1)" font-size="8.3" text-anchor="start" font-weight="normal" fill="#353535" >Below LSL</text>
<text x="0" y="0" transform="translate(467.80,504.60) scale(0.87,1)" font-size="8.3" text-anchor="end" font-weight="normal" fill="#353535" >0.5418</text>
<text x="0" y="0" transform="translate(507.80,504.60) scale(0.87,1)" font-size="8.3" text-anchor="end" font-weight="normal" fill="#353535" >5418.3435</text>
<text x="0" y="0" transform="translate(540.00,504.60) scale(0.87,1)" font-size="8.3" text-anchor="end" font-weight="normal" fill="#353535" >4.048</text>
<text x="0" y="0" transform="translate(385.50,515.20) scale(0.87,1)" font-size="8.3" text-anchor="start" font-weight="normal" fill="#353535" >Above USL</text>
<text x="0" y="0" transform="translate(467.80,515.20) scale(0.87,1)" font-size="8.3" text-anchor="end" font-weight="normal" fill="#353535" >2.2871</text>
<text x="0" y="0" transform="translate(507.80,515.20) scale(0.87,1)" font-size="8.3" text-anchor="end" font-weight="normal" fill="#353535" >22871.072</text>
<text x="0" y="0" transform="translate(540.00,515.20) scale(0.87,1)" font-size="8.3" text-anchor="end" font-weight="normal" fill="#353535" >3.498</text>
<text x="0" y="0" transform="translate(385.50,525.80) scale(0.87,1)" font-size="8.3" text-anchor="start" font-weight="normal" fill="#353535" >Total Outside</text>
<text x="0" y="0" transform="translate(467.80,525.80) scale(0.87,1)" font-size="8.3" text-anchor="end" font-weight="normal" fill="#353535" >2.8289</text>
<text x="0" y="0" transform="translate(507.80,525.80) scale(0.87,1)" font-size="8.3" text-anchor="end" font-weight="normal" fill="#353535" >28289.416</text>
<text x="0" y="0" transform="translate(540.00,525.80) scale(0.87,1)" font-size="8.3" text-anchor="end" font-weight="normal" fill="#353535" >3.407</text>
</svg>
</body></html>
